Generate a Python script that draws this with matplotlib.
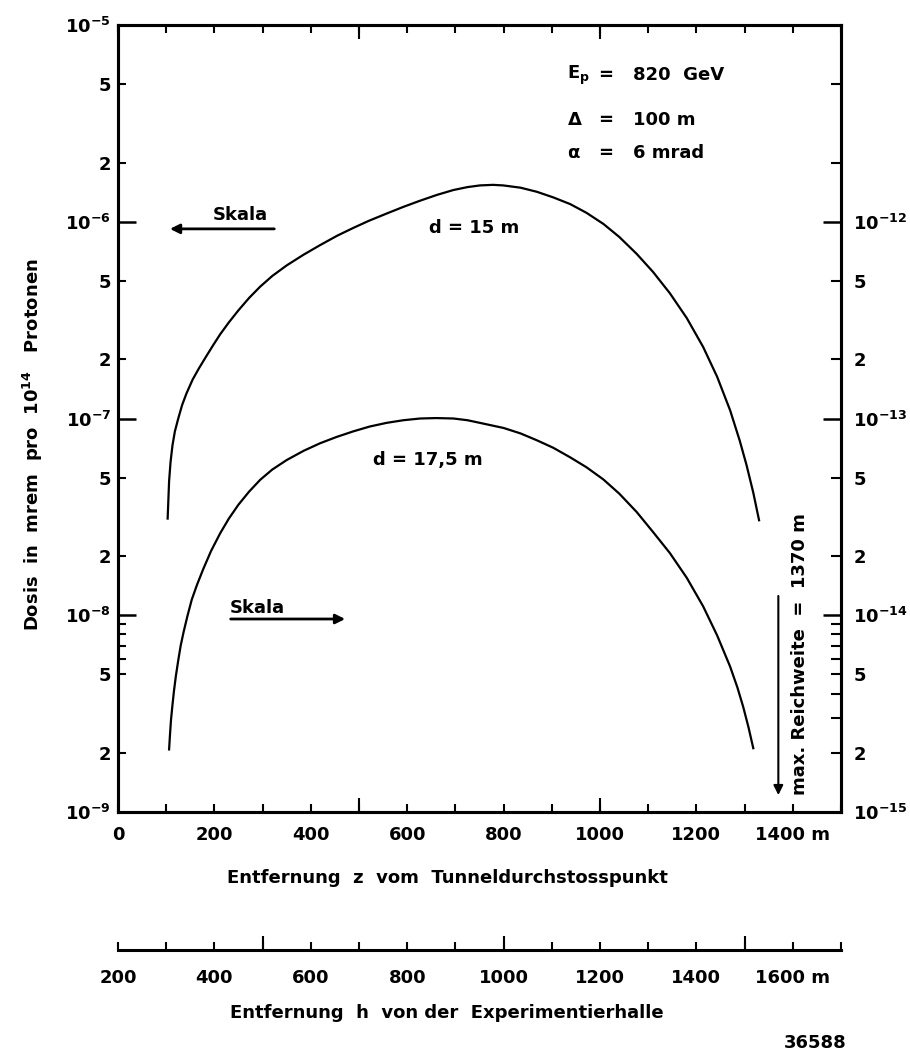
import numpy as np
from matplotlib import pyplot as plt

plt.rcParams['font.family'] = 'DejaVu Sans'
plt.rcParams['font.weight'] = 'bold'
plt.rcParams['mathtext.fontset'] = 'dejavusans'
plt.rcParams['mathtext.default'] = 'bf'

# d = 15 m, left scale (mrem pro 10^14 Protonen)
z_15 = [103, 106, 109, 113, 118, 125, 133, 142, 155, 168, 182, 197, 212, 230, 250, 272,
        295, 320, 350, 385, 419, 455, 488, 520, 557, 592, 627, 662, 696, 725, 751, 778,
        799, 835, 869, 903, 938, 972, 1007, 1040, 1076, 1110, 1145, 1180, 1214, 1243,
        1270, 1290, 1304, 1318, 1330]
dose_15 = [3.1e-8, 4.8e-8, 6.0e-8, 7.3e-8, 8.6e-8, 1.0e-7, 1.17e-7, 1.34e-7, 1.58e-7,
           1.80e-7, 2.05e-7, 2.35e-7, 2.68e-7, 3.08e-7, 3.55e-7, 4.1e-7, 4.68e-7, 5.3e-7,
           6.0e-7, 6.8e-7, 7.6e-7, 8.5e-7, 9.3e-7, 1.01e-6, 1.10e-6, 1.19e-6, 1.28e-6,
           1.37e-6, 1.45e-6, 1.50e-6, 1.53e-6, 1.54e-6, 1.53e-6, 1.49e-6, 1.42e-6, 1.33e-6,
           1.23e-6, 1.11e-6, 9.75e-7, 8.37e-7, 6.87e-7, 5.56e-7, 4.33e-7, 3.24e-7, 2.31e-7,
           1.63e-7, 1.10e-7, 7.7e-8, 5.8e-8, 4.2e-8, 3.04e-8]

# d = 17,5 m, right scale
z_175 = [106, 108, 110, 113, 116, 120, 125, 130, 136, 144, 153, 164, 177, 193, 212, 230,
         250, 272, 295, 320, 350, 385, 419, 453, 488, 522, 557, 592, 627, 660, 696, 725,
         751, 800, 835, 869, 903, 938, 972, 1007, 1040, 1076, 1110, 1145, 1180, 1214,
         1243, 1270, 1285, 1297, 1308, 1318]
dose_175 = [2.08e-15, 2.5e-15, 2.95e-15, 3.5e-15, 4.1e-15, 4.9e-15, 5.9e-15, 7.0e-15,
            8.2e-15, 9.9e-15, 1.2e-14, 1.43e-14, 1.72e-14, 2.12e-14, 2.61e-14, 3.1e-14,
            3.65e-14, 4.25e-14, 4.88e-14, 5.5e-14, 6.15e-14, 6.85e-14, 7.48e-14, 8.05e-14,
            8.6e-14, 9.1e-14, 9.5e-14, 9.8e-14, 1.0e-13, 1.005e-13, 1.0e-13, 9.8e-14,
            9.5e-14, 8.95e-14, 8.4e-14, 7.75e-14, 7.1e-14, 6.35e-14, 5.65e-14, 4.9e-14,
            4.15e-14, 3.35e-14, 2.65e-14, 2.07e-14, 1.55e-14, 1.11e-14, 7.9e-15, 5.48e-15,
            4.3e-15, 3.43e-15, 2.7e-15, 2.11e-15]

z_ticks = np.arange(0, 1600, 100)
z_labels = ['0', '', '200', '', '400', '', '600', '', '800', '', '1000', '', '1200', '', '1400 m', '']
h_ticks = np.arange(200, 1800, 100)
h_labels = ['200', '', '400', '', '600', '', '800', '', '1000', '', '1200', '', '1400', '', '1600 m', '']

left_major = [1e-9, 1e-8, 1e-7, 1e-6, 1e-5]
left_major_labels = [r'$10^{-9}$', r'$10^{-8}$', r'$10^{-7}$', r'$10^{-6}$', r'$10^{-5}$']
right_major = [1e-15, 1e-14, 1e-13, 1e-12, 1e-11]
right_major_labels = [r'$10^{-15}$', r'$10^{-14}$', r'$10^{-13}$', r'$10^{-12}$', '']

fig = plt.figure(figsize=(9.1, 10.53), dpi=100)
ax = fig.add_axes([118 / 910, 1 - 812 / 1053, 723 / 910, 787 / 1053])
ax2 = ax.twinx()

ax.plot(z_15, dose_15, color='black', lw=1.6)
ax2.plot(z_175, dose_175, color='black', lw=1.6)

ax.set_xlim(0, 1500)
ax.set_yscale('log')
ax.set_ylim(1e-9, 1e-5)
ax2.set_yscale('log')
ax2.set_ylim(1e-15, 1e-11)

for s in ax.spines.values():
    s.set_linewidth(2.2)
for s in ax2.spines.values():
    s.set_linewidth(2.2)

# x ticks: short every 100 m, long at 500 and 1000
ax.set_xticks(z_ticks, z_labels)
ax.set_xticks([500, 1000], minor=True)
ax.xaxis.remove_overlapping_locs = False
ax.tick_params(axis='x', which='major', direction='in', length=6, width=1.5,
               top=True, labelsize=13, pad=10)
ax.tick_params(axis='x', which='minor', direction='in', length=10, width=1.5, top=True)

# left y ticks
left_minor, left_minor_labels = [], []
for e in range(-9, -5):
    for m in [2, 5]:
        left_minor.append(m * 10.0 ** e)
        left_minor_labels.append(str(m))
for m in [6, 7, 8, 9]:
    left_minor.append(m * 1e-9)
    left_minor_labels.append('')
ax.set_yticks(left_major, left_major_labels)
ax.set_yticks(left_minor, left_minor_labels, minor=True)
ax.tick_params(axis='y', which='major', direction='in', length=13, width=1.8, labelsize=13, pad=5)
ax.tick_params(axis='y', which='minor', direction='in', length=6, width=1.5, labelsize=13, pad=5)

# right y ticks
right_minor, right_minor_labels = [], []
for e in range(-15, -11):
    for m in [2, 5]:
        right_minor.append(m * 10.0 ** e)
        right_minor_labels.append(str(m) if e < -12 else '')
for m in [3, 4, 6, 7, 8, 9]:
    right_minor.append(m * 1e-15)
    right_minor_labels.append('')
ax2.set_yticks(right_major, right_major_labels)
ax2.set_yticks(right_minor, right_minor_labels, minor=True)
ax2.tick_params(axis='y', which='major', direction='in', length=13, width=1.8, labelsize=13, pad=9)
ax2.tick_params(axis='y', which='minor', direction='in', length=7, width=1.5, labelsize=13, pad=9)

# second distance scale h = z + 200
sec = ax.secondary_xaxis(-0.1753, functions=(lambda z: z + 200, lambda h: h - 200))
sec.set_xticks(h_ticks, h_labels)
sec.set_xticks([500, 1000, 1500], minor=True)
sec.xaxis.remove_overlapping_locs = False
sec.spines['bottom'].set_linewidth(2.2)
sec.tick_params(which='major', direction='in', length=6, width=1.5, labelsize=13, pad=14)
sec.tick_params(which='minor', direction='in', length=10, width=1.5)

# labels
ax.text(0.455, -0.0839, 'Entfernung  z  vom  Tunneldurchstosspunkt', transform=ax.transAxes,
        ha='center', va='center', fontsize=13)
ax.text(0.455, -0.2554, 'Entfernung  h  von der  Experimentierhalle', transform=ax.transAxes,
        ha='center', va='center', fontsize=13)
ax.text(0.964, -0.2935, '36588', transform=ax.transAxes, ha='center', va='center', fontsize=13)
ax.text(-0.1176, 0.4663, r'Dosis  in  mrem  pro  $10^{14}$   Protonen', transform=ax.transAxes,
        ha='center', va='center', rotation=90, fontsize=13)

# parameters
params = [(r'$E_{p}$', '820  GeV', 0.936), (r'$\Delta$', '100 m', 0.879), (r'$\alpha$', '6 mrad', 0.837)]
for sym, val, yy in params:
    ax.text(0.621, yy, sym, transform=ax.transAxes, ha='left', va='center', fontsize=13)
    ax.text(0.675, yy, '=', transform=ax.transAxes, ha='center', va='center', fontsize=13)
    ax.text(0.712, yy, val, transform=ax.transAxes, ha='left', va='center', fontsize=13)

ax.text(0.492, 0.742, 'd = 15 m', transform=ax.transAxes, ha='center', va='center', fontsize=13)
ax.text(0.429, 0.447, 'd = 17,5 m', transform=ax.transAxes, ha='center', va='center', fontsize=13)

# Skala arrows
ax.annotate('', xy=(102, 9.2e-7), xytext=(330, 9.2e-7),
            arrowprops=dict(arrowstyle='-|>', lw=2, color='black', mutation_scale=14))
ax.text(197, 1.08e-6, 'Skala', ha='left', va='center', fontsize=13)
ax.annotate('', xy=(477, 9.57e-9), xytext=(228, 9.57e-9),
            arrowprops=dict(arrowstyle='-|>', lw=2, color='black', mutation_scale=14))
ax.text(232, 1.09e-8, 'Skala', ha='left', va='center', fontsize=13)

# max. Reichweite
ax.annotate('', xy=(1370, 0.018), xytext=(1370, 0.278), xycoords=('data', 'axes fraction'),
            textcoords=('data', 'axes fraction'),
            arrowprops=dict(arrowstyle='-|>', lw=1.5, color='black', mutation_scale=14))
ax.text(0.943, 0.201, 'max. Reichweite  =  1370 m', transform=ax.transAxes,
        ha='center', va='center', rotation=90, fontsize=13)

fig.savefig('out.png', dpi=100)
